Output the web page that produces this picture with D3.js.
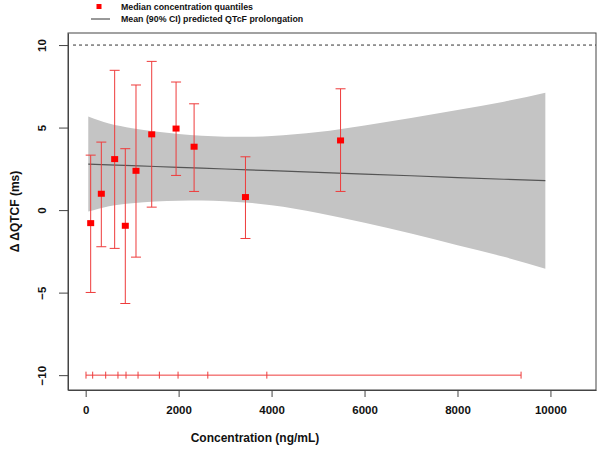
<!DOCTYPE html>
<html>
<head>
<meta charset="utf-8">
<script src="https://cdn.jsdelivr.net/npm/d3@7"></script>
<style>
  body { margin: 0; background: #fff; }
  text { font-family: "Liberation Sans", Arial, sans-serif; font-weight: bold; fill: #111; }
</style>
</head>
<body>
<div id="chart"></div>
<script>
// medianas por cuantil de concentracion
const medConc = [108, 337, 624, 853, 1083, 1421, 1945, 2333, 3438, 5484];
const medVal  = [-0.79, 0.99, 3.09, -0.95, 2.38, 4.59, 4.94, 3.84, 0.79, 4.22];
const ciLow   = [-4.99, -2.22, -2.32, -5.66, -2.85, 0.18, 2.10, 1.13, -1.72, 1.13];
const ciHigh  = [3.33, 4.12, 8.47, 3.72, 7.58, 9.01, 7.76, 6.44, 3.23, 7.35];

// limites de los cuantiles (abajo, en y = -10)
const quantEdges = [7, 151, 431, 695, 868, 1127, 1586, 1988, 2628, 3898, 9368];

// prediccion del modelo: media y banda IC 90%
const predConc  = [56, 500, 1000, 1500, 2000, 2500, 3000, 3500, 4000, 5000, 6000, 7000, 8000, 9000, 9890];
const predMean  = [2.79, 2.74, 2.69, 2.64, 2.59, 2.54, 2.49, 2.44, 2.39, 2.28, 2.18, 2.08, 1.97, 1.87, 1.78];
const predUpper = [5.67, 5.24, 4.96, 4.76, 4.61, 4.50, 4.45, 4.44, 4.49, 4.73, 5.13, 5.58, 6.07, 6.57, 7.11];
const predLower = [-0.09, 0.24, 0.42, 0.52, 0.57, 0.58, 0.53, 0.44, 0.29, -0.17, -0.77, -1.42, -2.13, -2.83, -3.55];

const xTicks = [0, 2000, 4000, 6000, 8000, 10000];
const yTicks = [-10, -5, 0, 5, 10];
const refLine = 10;

const width = 600, height = 453;
const box = { left: 68, right: 596, top: 33, bottom: 390 };

const x = d3.scaleLinear().domain([-380, 10980]).range([box.left, box.right]);
const y = d3.scaleLinear().domain([-10.9, 10.73]).range([box.bottom, box.top]);

const svg = d3.select("#chart").append("svg")
    .attr("width", width)
    .attr("height", height);

const red = "#ff0000", redLine = "#ee3b3b";

// Banda IC
const band = predConc.map((c, i) => ({ c: c, lo: predLower[i], hi: predUpper[i], m: predMean[i] }));
svg.append("path")
    .datum(band)
    .attr("fill", "#c4c4c4")
    .attr("d", d3.area().curve(d3.curveMonotoneX)
        .x(d => x(d.c)).y0(d => y(d.lo)).y1(d => y(d.hi)));

// Media
svg.append("path")
    .datum(band)
    .attr("fill", "none")
    .attr("stroke", "#555")
    .attr("stroke-width", 1.2)
    .attr("d", d3.line().x(d => x(d.c)).y(d => y(d.m)));

// Linea de referencia discontinua
svg.append("line")
    .attr("x1", box.left + 5).attr("x2", box.right)
    .attr("y1", y(refLine)).attr("y2", y(refLine))
    .attr("stroke", "#333")
    .attr("stroke-dasharray", "3,3");

// Cuantiles abajo
svg.append("line")
    .attr("x1", x(quantEdges[0])).attr("x2", x(quantEdges[quantEdges.length - 1]))
    .attr("y1", y(-10)).attr("y2", y(-10))
    .attr("stroke", redLine);
svg.selectAll("line.qtick")
    .data(quantEdges)
    .enter()
    .append("line")
    .attr("class", "qtick")
    .attr("x1", d => x(d)).attr("x2", d => x(d))
    .attr("y1", y(-10) - 3.5).attr("y2", y(-10) + 3.5)
    .attr("stroke", redLine);

// Barras de error
const pts = medConc.map((c, i) => ({ c: c, v: medVal[i], lo: ciLow[i], hi: ciHigh[i] }));
const eb = svg.selectAll("g.eb").data(pts).enter().append("g").attr("class", "eb")
    .attr("stroke", redLine).attr("stroke-width", 1);
eb.append("line")
    .attr("x1", d => x(d.c)).attr("x2", d => x(d.c))
    .attr("y1", d => y(d.lo)).attr("y2", d => y(d.hi));
eb.append("line")
    .attr("x1", d => x(d.c) - 5).attr("x2", d => x(d.c) + 5)
    .attr("y1", d => y(d.lo)).attr("y2", d => y(d.lo));
eb.append("line")
    .attr("x1", d => x(d.c) - 5).attr("x2", d => x(d.c) + 5)
    .attr("y1", d => y(d.hi)).attr("y2", d => y(d.hi));

svg.selectAll("rect.pt")
    .data(pts)
    .enter()
    .append("rect")
    .attr("class", "pt")
    .attr("x", d => x(d.c) - 3.5)
    .attr("y", d => y(d.v) - 3)
    .attr("width", 7)
    .attr("height", 6)
    .attr("fill", red);

// Caja
svg.append("rect")
    .attr("x", box.left).attr("y", box.top)
    .attr("width", box.right - box.left).attr("height", box.bottom - box.top)
    .attr("fill", "none")
    .attr("stroke", "#444");

// Eje X
const gx = svg.append("g")
    .attr("transform", `translate(0,${box.bottom})`)
    .call(d3.axisBottom(x).tickValues(xTicks).tickSize(7).tickSizeOuter(0).tickPadding(9).tickFormat(d3.format("d")));
gx.select(".domain").attr("stroke", "#444");
gx.selectAll(".tick line").attr("stroke", "#444");
gx.selectAll("text").style("font-size", "11.5px").attr("fill", "#111");

// Eje Y
const gy = svg.append("g")
    .attr("transform", `translate(${box.left},0)`)
    .call(d3.axisLeft(y).tickValues(yTicks).tickSize(9).tickSizeOuter(0).tickFormat(d3.format("d")));
gy.select(".domain").attr("stroke", "#444");
gy.selectAll(".tick line").attr("stroke", "#444");
gy.selectAll(".tick text")
    .attr("x", null).attr("dy", null)
    .attr("text-anchor", "middle")
    .attr("transform", "translate(-26,0) rotate(-90)")
    .attr("dy", "0.35em")
    .style("font-size", "11.5px").attr("fill", "#111");

// Etiquetas de los ejes
svg.append("text")
    .attr("x", 255)
    .attr("y", 442)
    .attr("text-anchor", "middle")
    .style("font-size", "12px")
    .text("Concentration (ng/mL)");

svg.append("text")
    .attr("transform", `translate(19,${(box.top + box.bottom) / 2}) rotate(-90)`)
    .attr("text-anchor", "middle")
    .style("font-size", "12px")
    .text("Δ ΔQTCF (ms)");

// Leyenda
svg.append("rect")
    .attr("x", 96.5).attr("y", 4)
    .attr("width", 5).attr("height", 5)
    .attr("fill", red);
svg.append("text")
    .attr("x", 121).attr("y", 10)
    .style("font-size", "8.8px")
    .text("Median concentration quantiles");
svg.append("line")
    .attr("x1", 91).attr("x2", 110)
    .attr("y1", 19).attr("y2", 19)
    .attr("stroke", "#333");
svg.append("text")
    .attr("x", 121).attr("y", 22)
    .style("font-size", "8.8px")
    .text("Mean (90% CI) predicted QTcF prolongation");
</script>
</body>
</html>
